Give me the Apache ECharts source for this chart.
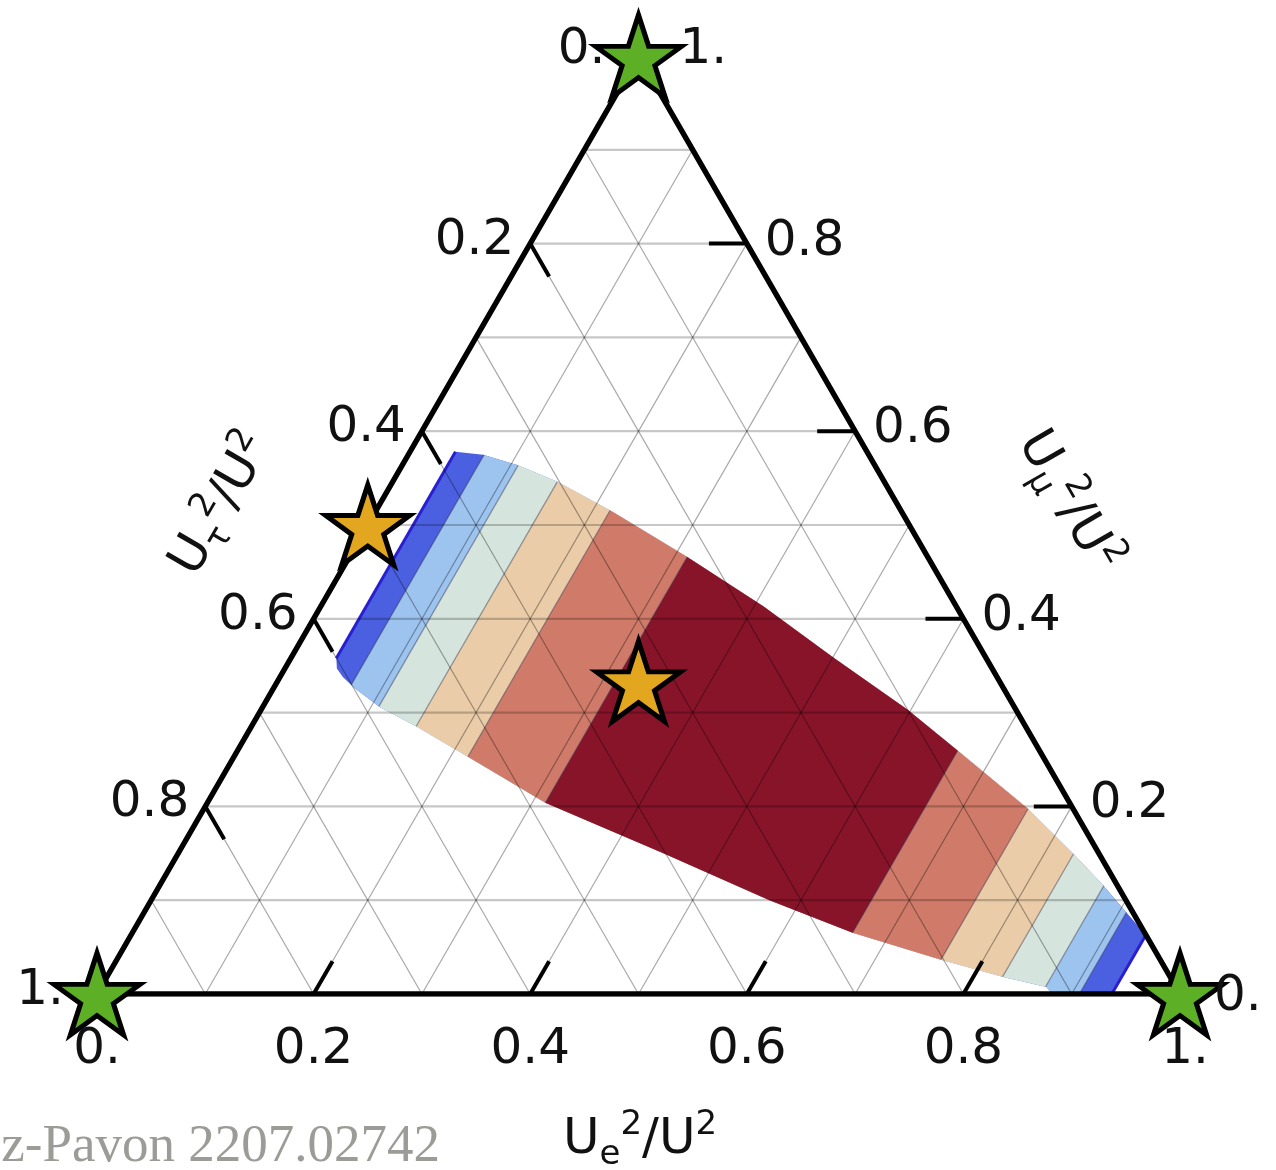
<!DOCTYPE html>
<html><head><meta charset="utf-8">
<script src="https://cdn.jsdelivr.net/npm/echarts@6/dist/echarts.min.js"></script>
<style>html,body{margin:0;padding:0;background:#fff}#c{width:1276px;height:1170px}</style>
</head><body><div id="c"></div>
<script>
// Ternary points are [Ue^2/U^2, Umu^2/U^2]; Utau^2/U^2 = 1 - e - mu
const envelopeTop = [[0.042,0.578],[0.069,0.575],[0.106,0.564],[0.152,0.546],[0.219,0.514],[0.312,0.466],[0.409,0.413],[0.500,0.359],[0.597,0.303],[0.664,0.260],[0.760,0.198],[0.826,0.150],[0.871,0.116],[0.907,0.087],[0.937,0.063]];
const envelopeBottom = [[0.937,0],[0.882,0],[0.873,0.0075],[0.828,0.018],[0.763,0.036],[0.666,0.065],[0.571,0.100],[0.448,0.150],[0.312,0.204],[0.216,0.253],[0.153,0.285],[0.108,0.306],[0.075,0.326],[0.058,0.338],[0.048,0.347],[0.042,0.358]];
const levelLeft  = [0.042, 0.070, 0.107, 0.152, 0.216, 0.312];
const levelRight = [0.937, 0.907, 0.872, 0.827, 0.761, 0.665];
const levelColors = ['#4b60e0', '#9dc3ef', '#d5e4dc', '#ebcca8', '#d07b69', '#88142a'];
const gridValues = [0.1,0.2,0.3,0.4,0.5,0.6,0.7,0.8,0.9];
const tickValues = [0.2,0.4,0.6,0.8];
const tickLabelValues = [0, 0.2, 0.4, 0.6, 0.8, 1];
const tickLabelTexts = ['0.', '0.2', '0.4', '0.6', '0.8', '1.'];
const greenStars = [[1,0],[0,1],[0,0]];
const goldStars = [[0,0.5],[1/3,1/3]];

const SQ = Math.sqrt(3)/2;
function tern(e, m){ return [e + m/2, m*SQ]; }
const envelope = envelopeTop.concat(envelopeBottom);
function clipHalf(poly, f){
  const out = [];
  for (let i=0;i<poly.length;i++){
    const p = poly[i], q = poly[(i+1)%poly.length];
    const fp = f(p), fq = f(q);
    if (fp >= 0) out.push(p);
    if ((fp >= 0) !== (fq >= 0)){
      const t = fp/(fp-fq);
      out.push([p[0]+t*(q[0]-p[0]), p[1]+t*(q[1]-p[1])]);
    }
  }
  return out;
}
function interp(arr, e){
  const s = arr.slice().sort((a,b)=>a[0]-b[0]);
  if (e <= s[0][0]) return s[0][1];
  for (let i=0;i<s.length-1;i++){
    if (e >= s[i][0] && e <= s[i+1][0]){
      const t = (e-s[i][0])/((s[i+1][0]-s[i][0])||1);
      return s[i][1] + t*(s[i+1][1]-s[i][1]);
    }
  }
  return s[s.length-1][1];
}
const FONT = 'DejaVu Sans';
const TICK_L = 0.035;

const boundaryData = [[levelLeft[0],0],[levelRight[0],0]];
for (let k=1;k<levelLeft.length;k++){ boundaryData.push([levelLeft[k],1]); boundaryData.push([levelRight[k],1]); }

const gridData = [];
gridValues.forEach(v=>{ for (let d=0; d<3; d++) gridData.push([v,d]); });
const tickData = [];
tickValues.forEach(v=>{ for (let d=0; d<3; d++) tickData.push([v,d]); });
const labelData = [];
tickLabelValues.forEach((v,i)=>{ for (let d=0; d<3; d++) labelData.push([v,d,i]); });

const titleRich = {
  u: {fontSize: 50, fontFamily: FONT, lineHeight: 64, fill: '#111'},
  s: {fontSize: 34, fontFamily: FONT, lineHeight: 34, verticalAlign: 'bottom', fill: '#111'},
  p: {fontSize: 34, fontFamily: FONT, lineHeight: 34, verticalAlign: 'top', fill: '#111'}
};
const STAR = 'path://M0,-100L22.45,-30.9L95.1,-30.9L36.33,11.8L58.78,80.9L0,38.2L-58.78,80.9L-36.33,11.8L-95.1,-30.9L-22.45,-30.9Z';

const chart = echarts.init(document.getElementById('c'));
chart.setOption({
  animation: false,
  backgroundColor: '#fff',
  grid: {left: 97, top: 56, width: 1083, height: 938},
  xAxis: {type: 'value', min: 0, max: 1, show: false},
  yAxis: {type: 'value', min: 0, max: SQ, show: false},
  graphic: [
    {type:'text', x: 640, y: 1140, z: 10, style: {text: '{u|U}{s|e}{p|2}{u|/U}{p|2}', rich: titleRich, align: 'center', verticalAlign: 'middle'}},
    {type:'text', x: 222, y: 505, rotation: Math.PI/3, z: 10, style: {text: '{u|U}{s|τ}{p|2}{u|/U}{p|2}', rich: titleRich, align: 'center', verticalAlign: 'middle'}},
    {type:'text', x: 1068, y: 502, rotation: -Math.PI/3, z: 10, style: {text: '{u|U}{s|μ}{p|2}{u|/U}{p|2}', rich: titleRich, align: 'center', verticalAlign: 'middle'}},
    {type:'text', x: 440, y: 1147, z: 10, style: {text: 'z-Pavon 2207.02742', fontFamily: 'Liberation Serif', fontSize: 53, fill: '#9b9b97', align: 'right', verticalAlign: 'middle'}}
  ],
  series: [
    { // contour bands
      type: 'custom', silent: true, z: 1,
      data: levelColors.map((c,i)=>[levelLeft[i], levelRight[i]]),
      renderItem: function(params, api){
        const i = params.dataIndex;
        let poly = clipHalf(envelope, p => p[0] - levelLeft[i]);
        poly = clipHalf(poly, p => levelRight[i] - p[0]);
        const pts = poly.map(p => api.coord(tern(p[0], p[1])));
        return {type:'polygon', shape:{points: pts}, style:{fill: levelColors[i]}};
      }
    },
    { // band boundaries
      type: 'custom', silent: true, z: 2,
      data: boundaryData,
      renderItem: function(params, api){
        const e = api.value(0), kind = api.value(1);
        const a = api.coord(tern(e, interp(envelopeBottom, e)));
        const b = api.coord(tern(e, interp(envelopeTop, e)));
        return {type:'line', shape:{x1:a[0],y1:a[1],x2:b[0],y2:b[1]},
          style: kind === 0 ? {stroke:'#2a1fd0', lineWidth: 3} : {stroke:'rgba(50,50,80,0.45)', lineWidth: 1.3}};
      }
    },
    { // grid lines
      type: 'custom', silent: true, z: 3,
      data: gridData,
      renderItem: function(params, api){
        const v = api.value(0), d = api.value(1);
        let p1, p2;
        if (d === 0){ p1 = tern(0, v); p2 = tern(1-v, v); }
        else if (d === 1){ p1 = tern(v, 0); p2 = tern(v, 1-v); }
        else { p1 = tern(0, 1-v); p2 = tern(1-v, 0); }
        const a = api.coord(p1), b = api.coord(p2);
        return {type:'line', shape:{x1:a[0],y1:a[1],x2:b[0],y2:b[1]},
          style: d === 0 ? {stroke:'rgba(0,0,0,0.22)', lineWidth: 2.2} : {stroke:'rgba(0,0,0,0.34)', lineWidth: 1.2}};
      }
    },
    { // triangle frame
      type: 'line', silent: true, z: 4, symbol: 'none',
      data: [tern(0,0), tern(1,0), tern(0,1), tern(0,0)],
      lineStyle: {color: '#000', width: 5.5, join: 'miter'}
    },
    { // ticks
      type: 'custom', silent: true, z: 5,
      data: tickData,
      renderItem: function(params, api){
        const v = api.value(0), d = api.value(1);
        let p1, p2;
        if (d === 0){ p1 = tern(v, 0); p2 = tern(v, TICK_L); }
        else if (d === 1){ p1 = tern(0, 1-v); p2 = tern(TICK_L, 1-v-TICK_L); }
        else { p1 = tern(1-v, v); p2 = tern(1-v-TICK_L, v); }
        const a = api.coord(p1), b = api.coord(p2);
        return {type:'line', shape:{x1:a[0],y1:a[1],x2:b[0],y2:b[1]}, style:{stroke:'#000', lineWidth: 4}};
      }
    },
    { // green stars
      type: 'scatter', silent: true, z: 6,
      data: greenStars.map(p => tern(p[0], p[1])),
      symbol: STAR, symbolSize: [86, 82],
      itemStyle: {color: '#5db026', borderColor: '#000', borderWidth: 5, borderJoin: 'miter', borderMiterLimit: 4, opacity: 1}
    },
    { // gold stars
      type: 'scatter', silent: true, z: 6,
      data: goldStars.map(p => tern(p[0], p[1])),
      symbol: STAR, symbolSize: [84, 80],
      itemStyle: {color: '#e2a71f', borderColor: '#000', borderWidth: 5, borderJoin: 'miter', borderMiterLimit: 4, opacity: 1}
    },
    { // tick labels
      type: 'custom', silent: true, z: 7,
      data: labelData,
      renderItem: function(params, api){
        const v = api.value(0), d = api.value(1), i = api.value(2);
        const corner = (v === 0 || v === 1);
        let p, dx, dy, align;
        if (d === 0){ p = api.coord(tern(v, 0)); dx = v === 1 ? 5 : 0; dy = 56; align = 'center'; }
        else if (d === 1){ p = api.coord(tern(0, 1-v)); dx = corner ? -33 : -16; dy = v === 0 ? -6 : -3; align = 'right'; }
        else { p = api.coord(tern(1-v, v)); dx = corner ? (v === 1 ? 41 : 34) : 18; dy = v === 1 ? -6 : (v === 0 ? 3 : -2); align = 'left'; }
        return {type:'text', x: p[0]+dx, y: p[1]+dy,
          style:{text: tickLabelTexts[i], fill:'#111', fontSize: 50, fontFamily: FONT, align: align, verticalAlign: 'middle'}};
      }
    }
  ]
});
</script></body></html>
